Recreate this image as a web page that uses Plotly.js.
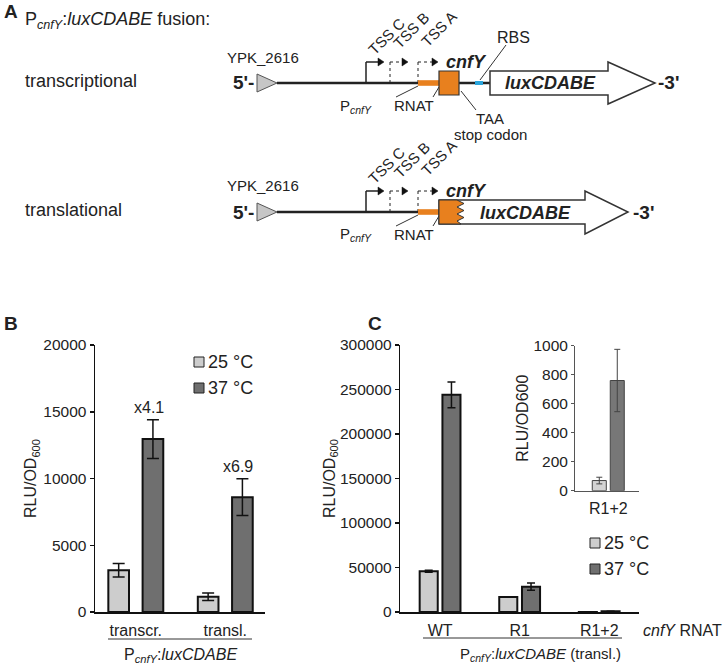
<!DOCTYPE html>
<html>
<head>
<meta charset="utf-8">
<script src="https://cdn.plot.ly/plotly-3.0.1.min.js"></script>
<style>
  body { margin: 0; background: #fff; }
  #fig { width: 726px; height: 665px; }
</style>
</head>
<body>
<div id="fig"></div>
<script>
// panel B: P_cnfY:luxCDABE, transcriptional vs translational fusion
const groupsB = ['transcr.', 'transl.'];
const b25 = [3130, 1150];
const b25err = [500, 280];
const b37 = [12950, 8600];
const b37err = [1450, 1380];
const foldB = ['x4.1', 'x6.9'];

// panel C: cnfY RNAT variants (translational fusion)
const groupsC = ['WT', 'R1', 'R1+2'];
const c25 = [45700, 16900, 70];
const c25err = [1100, 300, 23];
const c37 = [244000, 28500, 760];
const c37err = [14500, 4200, 215];

const tempNames = ['25 °C', '37 °C'];

const W = 726, H = 665;
// figure pixel -> paper fraction (margins are zero)
const px = x => x / W;
const py = y => 1 - y / H;

const LIGHT = '#cdcdcd';
const DARK = '#6f6f6f';
const INK = '#222';
const ORANGE = '#e8801e';
const FONT = 'Liberation Sans, Arial, sans-serif';

function barTrace(x, y, err, color, ax, w, off, lw, capw, ecol) {
  return {
    type: 'bar', x: x, y: y, xaxis: ax[0], yaxis: ax[1],
    width: w, offset: off, showlegend: false,
    marker: { color: color, line: { color: lw > 1 ? '#111' : '#444', width: lw } },
    error_y: { type: 'data', array: err, visible: true, color: ecol, thickness: lw > 1 ? 1.5 : 1, width: capw },
    hoverinfo: 'skip'
  };
}

const data = [
  barTrace(groupsB, b25, b25err, LIGHT, ['x', 'y'], 0.231, -0.307, 2, 6, '#111'),
  barTrace(groupsB, b37, b37err, DARK, ['x', 'y'], 0.231, 0.076, 2, 6, '#111'),
  barTrace(groupsC, c25, c25err, LIGHT, ['x2', 'y2'], 0.227, -0.2565, 2, 4, '#111'),
  barTrace(groupsC, c37, c37err, DARK, ['x2', 'y2'], 0.227, 0.0295, 2, 4, '#111'),
  // inset: R1+2 only
  barTrace([groupsC[2]], [c25[2]], [c25err[2]], '#d3d3d3', ['x3', 'y3'], 0.219, -0.25, 1, 3, '#444'),
  barTrace([groupsC[2]], [c37[2]], [c37err[2]], '#777', ['x3', 'y3'], 0.219, 0.031, 1, 3, '#444')
];

// ---- schematic (panel A), drawn in figure pixels ----
const shapes = [];
const annotations = [];

function path(pts) {
  return 'M' + pts.map(p => px(p[0]) + ',' + py(p[1])).join('L') + 'Z';
}
function line(x0, y0, x1, y1, w, col, dash) {
  shapes.push({ type: 'line', xref: 'paper', yref: 'paper', x0: px(x0), y0: py(y0), x1: px(x1), y1: py(y1),
    line: { color: col || '#333', width: w || 1, dash: dash || 'solid' } });
}
function rect(x0, y0, x1, y1, fill, lc, lw) {
  shapes.push({ type: 'rect', xref: 'paper', yref: 'paper', x0: px(x0), y0: py(y0), x1: px(x1), y1: py(y1),
    fillcolor: fill, line: { color: lc || fill, width: lw || 0 } });
}
function poly(pts, fill, lc, lw) {
  shapes.push({ type: 'path', xref: 'paper', yref: 'paper', path: path(pts),
    fillcolor: fill, line: { color: lc, width: lw } });
}
function text(t, x, y, size, xa, extra) {
  annotations.push(Object.assign({ text: t, xref: 'paper', yref: 'paper', x: px(x), y: py(y),
    xanchor: xa || 'center', yanchor: 'middle', showarrow: false,
    font: { family: FONT, size: size, color: INK } }, extra || {}));
}

function tss(xv, xe, yl, yh, solid) {
  line(xv, yl, xv, yh, solid ? 1.5 : 1, '#222', solid ? 'solid' : 'dot');
  line(xv, yh, xe - 5, yh, solid ? 1.5 : 1, '#222', solid ? 'solid' : 'dot');
  poly([[xe - 6, yh - 4], [xe, yh], [xe - 6, yh + 4]], '#111', '#111', 0.5);
}

function row(yl, fused) {
  const d = yl - 83;
  text('YPK_2616', 263, 57 + d, 15);
  text("<b>5'-</b>", 256, yl, 19, 'right');
  line(277, yl, fused ? 440 : 490, yl, 2.6, '#222');
  poly([[257, yl - 9], [277, yl], [257, yl + 9]], '#c6c6c6', '#555', 1);
  text('P<sub><i>cnfY</i></sub>', 338, 106 + d, 15, 'left');
  tss(366, 384, yl, yl - 21, true);
  tss(390, 408, yl, yl - 21, false);
  tss(418, 438, yl, yl - 21, false);
  text('TSS C', 386, 36 + d, 15, 'center', { textangle: -45 });
  text('TSS B', 411, 31 + d, 15, 'center', { textangle: -45 });
  text('TSS A', 439, 28 + d, 15, 'center', { textangle: -45 });
  rect(418, yl - 2.8, 439, yl + 2.8, ORANGE);
  text('RNAT', 414, 105 + d, 15);
  line(396, 97 + d, 418, 86 + d, 1, '#333');
  line(433, 97 + d, 439, 87 + d, 1, '#333');
  text('<b><i>cnfY</i></b>', 466, 62 + d, 18);
  if (!fused) {
    rect(439, 71, 459, 95, ORANGE, '#333', 1.2);
    rect(475, 81, 483, 85, '#2aa5dc');
    poly([[490, 71], [608, 71], [608, 62], [655, 83], [608, 104], [608, 95], [490, 95]], '#fff', '#333', 1.5);
    text('<b><i>luxCDABE</i></b>', 550, 83, 18);
    text("<b>-3'</b>", 656, 83, 19, 'left');
    text('RBS', 513, 37, 16);
    line(506, 45, 480, 80, 1, '#333');
    line(461, 91, 476, 110, 1, '#333');
    text('TAA', 490, 118, 15);
    text('stop codon', 490, 135, 15);
  } else {
    poly([[439, yl - 12], [585, yl - 12], [585, yl - 21], [628, yl], [585, yl + 22], [585, yl + 12], [439, yl + 12]], '#fff', '#333', 1.5);
    poly([[439, yl - 12], [457, yl - 12], [464, yl - 8.5], [457, yl - 5], [464, yl - 1.5], [457, yl + 2], [464, yl + 5.5], [457, yl + 9], [461, yl + 12], [439, yl + 12]], ORANGE, '#333', 1);
    text('<b><i>luxCDABE</i></b>', 525, yl + 1, 18);
    text("<b>-3'</b>", 631, yl, 19, 'left');
  }
}

text('<b>A</b>', 2, 12, 19, 'left');
text('P<sub><i>cnfY</i></sub>:<i>luxCDABE</i> fusion:', 23, 21, 18, 'left');
text('transcriptional', 23, 81, 18, 'left');
text('translational', 23, 210, 18, 'left');
row(83, false);
row(212, true);

// ---- panel labels, legends, group captions ----
text('<b>B</b>', 2, 323, 19, 'left');
text('<b>C</b>', 366, 323, 19, 'left');

function legendBox(x, y, color, label) {
  rect(x, y - 5, x + 10, y + 5, color, '#222', 1);
  text(label, x + 12, y, 18, 'left');
}
legendBox(194, 362, LIGHT, tempNames[0]);
legendBox(194, 388, DARK, tempNames[1]);
legendBox(590, 543, LIGHT, tempNames[0]);
legendBox(590, 569, DARK, tempNames[1]);

line(108, 639, 252, 639, 1, '#333');
text('P<sub><i>cnfY</i></sub>:<i>luxCDABE</i>', 180, 655, 16);
line(423, 638, 622, 638, 1, '#333');
text('P<sub><i>cnfY</i></sub>:<i>luxCDABE</i> (transl.)', 540, 654, 15);
text('<i>cnfY</i> RNAT', 724, 630, 16, 'right');

// fold-change labels above the 37 °C bars
foldB.forEach((f, i) => {
  annotations.push({ text: f, xref: 'x', yref: 'y', x: i, y: b37[i] + b37err[i],
    xanchor: 'center', yanchor: 'bottom', xshift: 13, yshift: 2, showarrow: false,
    font: { family: FONT, size: 16, color: INK } });
});

const yBase = {
  showgrid: false, zeroline: false, showline: true, linecolor: '#111', linewidth: 1.5,
  ticks: 'outside', ticklen: 4, tickwidth: 1.5, tickcolor: '#111', tickformat: 'd',
  tickfont: { family: FONT, size: 15.5, color: INK }
};
const xBase = {
  type: 'category', showgrid: false, zeroline: false, showline: true, linecolor: '#111', linewidth: 1.5,
  ticks: '', ticklabelstandoff: 3, tickfont: { family: FONT, size: 16, color: INK }
};

const layout = {
  width: W, height: H,
  margin: { l: 0, r: 0, t: 0, b: 0 },
  paper_bgcolor: '#fff', plot_bgcolor: 'rgba(0,0,0,0)',
  showlegend: false, barmode: 'overlay',
  font: { family: FONT, color: INK },
  xaxis: Object.assign({}, xBase, { domain: [px(95), px(265)], range: [-0.456, 1.444], anchor: 'y' }),
  yaxis: Object.assign({}, yBase, { domain: [py(612), py(345)], range: [0, 20000], dtick: 5000, anchor: 'x',
    title: { text: 'RLU/OD<sub>600</sub>', font: { family: FONT, size: 16, color: INK }, standoff: 2 } }),
  xaxis2: Object.assign({}, xBase, { domain: [px(400.3), px(639)], range: [-0.5, 2.5], anchor: 'y2' }),
  yaxis2: Object.assign({}, yBase, { domain: [py(612), py(345)], range: [0, 300000], dtick: 50000, anchor: 'x2',
    title: { text: 'RLU/OD<sub>600</sub>', font: { family: FONT, size: 16, color: INK }, standoff: 0 } }),
  xaxis3: Object.assign({}, xBase, { domain: [px(575), px(639)], range: [-0.52, 0.48], anchor: 'y3',
    linecolor: '#555', linewidth: 1, ticklabelstandoff: 3, tickfont: { family: FONT, size: 16, color: INK } }),
  yaxis3: Object.assign({}, yBase, { domain: [py(490.7), py(345.7)], range: [0, 1000], dtick: 200, anchor: 'x3',
    linecolor: '#555', linewidth: 1, tickcolor: '#555', tickwidth: 1, ticklen: 3,
    tickfont: { family: FONT, size: 15.5, color: INK },
    title: { text: 'RLU/OD600', font: { family: FONT, size: 16, color: INK }, standoff: 0 } }),
  shapes: shapes,
  annotations: annotations
};

Plotly.newPlot('fig', data, layout, { staticPlot: true, displayModeBar: false });
</script>
</body>
</html>
